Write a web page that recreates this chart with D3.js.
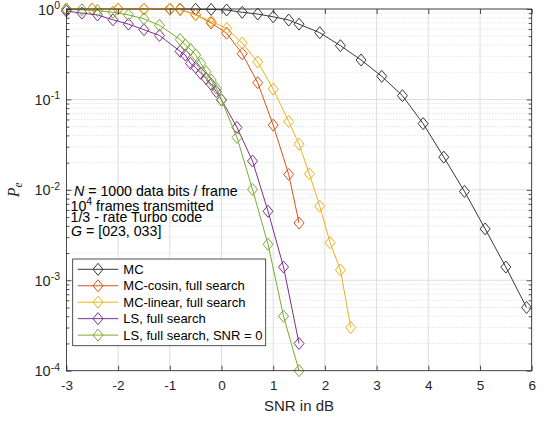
<!DOCTYPE html>
<html><head><meta charset="utf-8">
<script src="https://cdn.jsdelivr.net/npm/d3@7"></script>
<style>body{margin:0;background:#fff}svg{display:block}</style>
</head><body><svg id="c" width="546" height="421"></svg>
<script>
// ---- data ----
const xTicks = [-3, -2, -1, 0, 1, 2, 3, 4, 5, 6];
const yTickExps = [0, -1, -2, -3, -4];
const seriesNames = ["MC", "MC-cosin, full search", "MC-linear, full search", "LS, full search", "LS, full search, SNR = 0"];

const mcSnr = [-1.0, -0.8, -0.5, -0.2, 0.1, 0.4, 0.7, 1.0, 1.3, 1.5, 1.9, 2.3, 2.7, 3.1, 3.5, 3.9, 4.3, 4.7, 5.1, 5.5, 5.9];
const mcPe  = [1.0, 1.0, 0.995, 0.99, 0.975, 0.92, 0.88, 0.82, 0.755, 0.68, 0.547, 0.393, 0.273, 0.18, 0.11, 0.054, 0.023, 0.0096, 0.0037, 0.0014, 0.0005];

const cosSnr = [-3.0, -2.5, -2.0, -1.5, -1.0, -0.8, -0.5, -0.2, 0.1, 0.4, 0.7, 1.0, 1.3, 1.5];
const cosPe  = [1.0, 1.0, 1.0, 1.0, 0.995, 0.985, 0.87, 0.70, 0.54, 0.32, 0.153, 0.052, 0.0148, 0.0043];

const linSnr = [-3.0, -2.5, -2.0, -1.5, -1.0, -0.8, -0.5, -0.2, 0.1, 0.4, 0.7, 1.0, 1.3, 1.5, 1.7, 1.9, 2.1, 2.3, 2.5];
const linPe  = [1.0, 1.0, 1.0, 1.0, 1.0, 0.99, 0.86, 0.73, 0.61, 0.42, 0.26, 0.13, 0.057, 0.032, 0.015, 0.0066, 0.0026, 0.0013, 0.0003];

const lsSnr = [-3.0, -2.7, -2.4, -2.1, -1.8, -1.5, -1.2, -0.8, -0.7, -0.6, -0.5, -0.4, -0.3, -0.2, -0.1, 0.0, 0.3, 0.6, 0.9, 1.2, 1.5];
const lsPe  = [0.95, 0.90, 0.86, 0.76, 0.68, 0.59, 0.51, 0.34, 0.31, 0.25, 0.226, 0.194, 0.171, 0.147, 0.122, 0.099, 0.049, 0.0208, 0.0058, 0.0014, 0.0002];

const ls0Snr = [-3.0, -2.7, -2.4, -2.1, -1.8, -1.5, -1.2, -0.8, -0.7, -0.6, -0.5, -0.4, -0.3, -0.2, -0.1, 0.0, 0.3, 0.6, 0.9, 1.2, 1.5];
const ls0Pe  = [0.99, 0.98, 0.96, 0.92, 0.86, 0.78, 0.66, 0.46, 0.40, 0.358, 0.31, 0.25, 0.203, 0.164, 0.133, 0.098, 0.038, 0.0101, 0.0025, 0.0004, 0.0001];

const seriesColors = ["#383838", "#D95319", "#EDB120", "#7E2F8E", "#77AC30"];

// ---- chart ----
(function () {
const series = [
  [mcSnr, mcPe], [cosSnr, cosPe], [linSnr, linPe], [lsSnr, lsPe], [ls0Snr, ls0Pe]
].map((s, i) => ({name: seriesNames[i], color: seriesColors[i], pts: s[0].map((v, j) => [v, s[1][j]])}));

const svg = d3.select("#c");
const L = 66.4, R = 531.7, T = 9, B = 370.7;
const x = d3.scaleLinear().domain([-3, 6]).range([L, R]);
const y = d3.scaleLog().domain([1e-4, 1]).range([B, T]);
const axisColor = "#262626";
const font = "'Liberation Sans', Arial, Helvetica, sans-serif";

// grid
const g = svg.append("g");
const minorVals = [];
for (let k = -4; k < 0; k++) for (let m = 2; m <= 9; m++) minorVals.push(m * Math.pow(10, k));
g.selectAll(".ymin").data(minorVals).join("line")
  .attr("x1", L).attr("x2", R).attr("y1", d => y(d)).attr("y2", d => y(d))
  .attr("stroke", "#cfcfcf").attr("stroke-width", 0.8).attr("stroke-dasharray", "1,2");
g.selectAll(".ymaj").data(yTickExps.map(e => Math.pow(10, e))).join("line")
  .attr("x1", L).attr("x2", R).attr("y1", d => y(d)).attr("y2", d => y(d))
  .attr("stroke", "#dedede").attr("stroke-width", 1);
g.selectAll(".xmaj").data(xTicks).join("line")
  .attr("x1", d => x(d)).attr("x2", d => x(d)).attr("y1", T).attr("y2", B)
  .attr("stroke", "#dedede").attr("stroke-width", 1);

// series
const line = d3.line().x(d => x(d[0])).y(d => y(d[1]));
const diamond = "M0,-6L5,0L0,6L-5,0Z";
const plot = svg.append("g");
series.forEach(s => {
  plot.append("path").datum(s.pts).attr("d", line)
    .attr("fill", "none").attr("stroke", s.color).attr("stroke-width", 1);
  plot.selectAll(null).data(s.pts).join("path")
    .attr("d", diamond).attr("transform", d => `translate(${x(d[0])},${y(d[1])})`)
    .attr("fill", "none").attr("stroke", s.color).attr("stroke-width", 1);
});

// axes (inward ticks)
const ax = svg.append("g").attr("font-family", font);
const axB = ax.append("g").attr("transform", `translate(0,${B})`)
  .call(d3.axisBottom(x).tickValues(xTicks).tickSizeInner(-5).tickSizeOuter(0).tickPadding(10).tickFormat(d3.format("d")));
ax.append("g").attr("transform", `translate(0,${T})`)
  .call(d3.axisTop(x).tickValues(xTicks).tickSizeInner(-5).tickSizeOuter(0).tickFormat(""));
ax.append("g").attr("transform", `translate(${L},0)`)
  .call(d3.axisLeft(y).tickValues(yTickExps.map(e => Math.pow(10, e))).tickSizeInner(-5).tickSizeOuter(0).tickFormat(""));
ax.append("g").attr("transform", `translate(${R},0)`)
  .call(d3.axisRight(y).tickValues(yTickExps.map(e => Math.pow(10, e))).tickSizeInner(-5).tickSizeOuter(0).tickFormat(""));
ax.append("g").attr("transform", `translate(${L},0)`)
  .call(d3.axisLeft(y).tickValues(minorVals).tickSizeInner(-3).tickSizeOuter(0).tickFormat(""));
ax.append("g").attr("transform", `translate(${R},0)`)
  .call(d3.axisRight(y).tickValues(minorVals).tickSizeInner(-3).tickSizeOuter(0).tickFormat(""));
ax.selectAll(".domain").remove();
ax.selectAll("line").attr("stroke", axisColor).attr("stroke-width", 0.8);
axB.selectAll("text").attr("font-size", 13.5).attr("fill", axisColor).attr("font-family", font)
  .text(d => d < 0 ? "-" + Math.abs(d) : d);
// box
svg.append("rect").attr("x", L).attr("y", T).attr("width", R - L).attr("height", B - T)
  .attr("fill", "none").attr("stroke", axisColor).attr("stroke-width", 0.8);

// y tick labels with superscripts
yTickExps.forEach(e => {
  const t = svg.append("text").attr("x", 60).attr("y", y(Math.pow(10, e)) + 5.5)
    .attr("text-anchor", "end").attr("font-family", font).attr("fill", axisColor).attr("font-size", 14.5);
  t.append("tspan").text("10");
  t.append("tspan").attr("dy", -5.5).attr("font-size", 10.5).text(e < 0 ? "-" + Math.abs(e) : e);
});

// axis labels
svg.append("text").attr("x", (L + R) / 2).attr("y", 411).attr("text-anchor", "middle")
  .attr("font-family", font).attr("font-size", 15).attr("fill", axisColor).text("SNR in dB");
const yl = svg.append("text").attr("transform", `translate(19,${(T + B) / 2}) rotate(-90)`)
  .attr("text-anchor", "middle").attr("font-family", "'Liberation Serif', 'Times New Roman', serif")
  .attr("font-style", "italic").attr("font-size", 16).attr("fill", axisColor);
yl.append("tspan").text("P");
yl.append("tspan").attr("dy", 3).attr("font-size", 11.5).text("e");

// annotation
const ann = svg.append("g").attr("font-family", font).attr("font-size", 14.2).attr("fill", "#000");
const a1 = ann.append("text").attr("x", 74).attr("y", 195.5);
a1.append("tspan").attr("font-style", "italic").text("N");
a1.append("tspan").text(" = 1000 data bits / frame");
const a2 = ann.append("text").attr("x", 70.5).attr("y", 211);
a2.append("tspan").text("10");
a2.append("tspan").attr("dy", -6.5).attr("font-size", 10.5).text("4");
a2.append("tspan").attr("dy", 6.5).text(" frames transmitted");
ann.append("text").attr("x", 70.5).attr("y", 222).text("1/3 - rate Turbo code");
const a4 = ann.append("text").attr("x", 71).attr("y", 235.5);
a4.append("tspan").text(" ");
a4.append("tspan").attr("font-style", "italic").text("G");
a4.append("tspan").text(" = [023, 033]");

// legend
const lg = svg.append("g").attr("font-family", font).attr("font-size", 13);
lg.append("rect").attr("x", 72.7).attr("y", 259).attr("width", 193).attr("height", 86.7)
  .attr("fill", "#fff").attr("stroke", axisColor).attr("stroke-width", 0.8);
series.forEach((s, i) => {
  const yy = 269.3 + i * 16.45;
  lg.append("line").attr("x1", 77.7).attr("x2", 118.3).attr("y1", yy).attr("y2", yy)
    .attr("stroke", s.color).attr("stroke-width", 1);
  lg.append("path").attr("d", diamond).attr("transform", `translate(98,${yy})`)
    .attr("fill", "none").attr("stroke", s.color).attr("stroke-width", 1);
  lg.append("text").attr("x", 123.3).attr("y", yy + 4.7).attr("fill", "#000").text(s.name);
});
})();
</script>
</body></html>
